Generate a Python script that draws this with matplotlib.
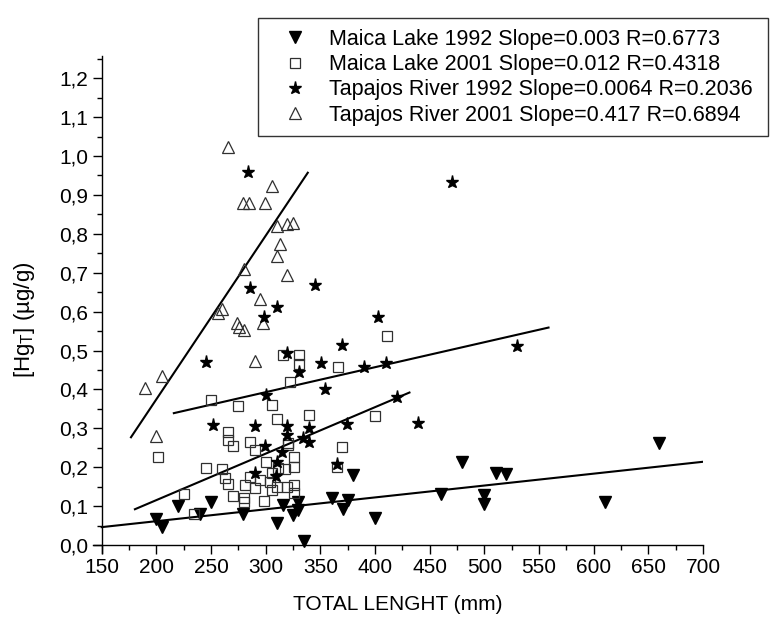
import matplotlib
matplotlib.use("Agg")
import matplotlib.pyplot as plt
from matplotlib.ticker import MultipleLocator, FuncFormatter

plt.rcParams['font.family'] = ['Liberation Sans', 'DejaVu Sans']
plt.rcParams['mathtext.default'] = 'regular'

# ---- data ----
maica92_x = [199.4, 205.5, 220.1, 240.0, 250.0, 279.6, 310.1, 315.6, 325.3, 329.9, 329.9,
             335.1, 360.4, 370.5, 375.1, 379.6, 400.0, 460.2, 480.0, 500.1, 500.1,
             510.8, 519.9, 610.5, 660.2]
maica92_y = [0.066, 0.047, 0.100, 0.081, 0.111, 0.079, 0.056, 0.103, 0.077, 0.111, 0.090,
             0.011, 0.120, 0.092, 0.116, 0.180, 0.070, 0.130, 0.214, 0.129, 0.105,
             0.186, 0.182, 0.111, 0.261]

maica01_x = [201.2, 225.3, 234.5, 245.4, 250.0, 259.8, 262.8, 265.9, 265.9, 265.9, 270.4,
             270.4, 275.0, 280.2, 280.2, 281.1, 285.7, 285.7, 290.3, 290.3, 294.8, 298.8,
             300.0, 304.0, 305.5, 305.5, 305.5, 310.1, 310.7, 311.6, 315.6, 317.7, 319.9,
             320.2, 320.7, 322.3, 325.9, 325.9, 325.9, 325.9, 330.5, 330.5, 340.0, 365.6,
             365.9, 370.2, 400.0, 410.7]
maica01_y = [0.227, 0.131, 0.081, 0.197, 0.373, 0.195, 0.173, 0.291, 0.270, 0.157, 0.254,
             0.126, 0.357, 0.120, 0.111, 0.154, 0.266, 0.176, 0.243, 0.147, 0.167, 0.114,
             0.214, 0.163, 0.360, 0.186, 0.141, 0.323, 0.150, 0.197, 0.488, 0.195, 0.150,
             0.257, 0.261, 0.418, 0.225, 0.200, 0.154, 0.133, 0.488, 0.465, 0.334, 0.201,
             0.458, 0.253, 0.332, 0.537]

tapajos92_x = [245.1, 252.1, 283.6, 285.7, 290.3, 290.3, 298.5, 299.4, 300.0, 309.5, 310.1,
               310.1, 314.7, 319.2, 319.2, 319.9, 330.2, 334.5, 340.0, 340.0, 345.2, 350.3,
               354.3, 365.0, 369.9, 374.7, 390.0, 403.1, 410.1, 419.9, 439.7, 470.2, 530.3]
tapajos92_y = [0.470, 0.308, 0.958, 0.660, 0.306, 0.186, 0.585, 0.254, 0.386, 0.177, 0.611,
               0.214, 0.240, 0.494, 0.283, 0.306, 0.446, 0.274, 0.300, 0.266, 0.668, 0.467,
               0.400, 0.208, 0.513, 0.311, 0.457, 0.585, 0.467, 0.381, 0.314, 0.934, 0.512]

tapajos01_x = [189.6, 199.4, 205.0, 256.1, 259.8, 265.3, 273.5, 275.3, 279.0, 280.2, 280.2,
               285.0, 290.3, 294.8, 297.3, 299.7, 305.5, 310.1, 310.1, 313.1, 319.9, 319.9,
               325.3]
tapajos01_y = [0.403, 0.280, 0.435, 0.597, 0.606, 1.024, 0.572, 0.561, 0.878, 0.552, 0.709,
               0.878, 0.474, 0.632, 0.570, 0.878, 0.923, 0.744, 0.820, 0.775, 0.824, 0.694,
               0.829]

# regression line end points
maica92_fit_x = [150, 700]
maica92_fit_y = [0.046, 0.214]
maica01_fit_x = [216, 558.7]
maica01_fit_y = [0.339, 0.559]
tapajos92_fit_x = [180.4, 431.5]
tapajos92_fit_y = [0.092, 0.392]
tapajos01_fit_x = [176.8, 338.5]
tapajos01_fit_y = [0.277, 0.957]

labels = ["Maica Lake 1992 Slope=0.003 R=0.6773",
          "Maica Lake 2001 Slope=0.012 R=0.4318",
          "Tapajos River 1992 Slope=0.0064 R=0.2036",
          "Tapajos River 2001 Slope=0.417 R=0.6894"]

x_ticks = list(range(150, 701, 50))
y_ticks = [i / 10 for i in range(0, 13)]

# ---- figure ----
fig = plt.figure(figsize=(7.7, 6.18), dpi=100)
ax = fig.add_axes([0.1214, 0.1055, 0.7916, 0.8032])

for fx, fy in [(maica92_fit_x, maica92_fit_y), (maica01_fit_x, maica01_fit_y),
               (tapajos92_fit_x, tapajos92_fit_y), (tapajos01_fit_x, tapajos01_fit_y)]:
    ax.plot(fx, fy, color='black', lw=1.5, zorder=2)

h1, = ax.plot(maica92_x, maica92_y, linestyle='none', marker='v', ms=8.5,
              color='black', zorder=3)
h2, = ax.plot(maica01_x, maica01_y, linestyle='none', marker='s', ms=6.5,
              mfc='none', mec='#303030', mew=0.9, zorder=3)
h3, = ax.plot(tapajos92_x, tapajos92_y, linestyle='none', marker='*', ms=9.5,
              color='black', zorder=4)
h4, = ax.plot(tapajos01_x, tapajos01_y, linestyle='none', marker='^', ms=9,
              mfc='none', mec='#303030', mew=0.9, zorder=3)

ax.set_xlim(142.5, 700)
ax.set_ylim(-0.02, 1.256)
ax.spines['left'].set_position(('data', 150))
ax.spines['bottom'].set_position(('data', 0))
ax.spines['top'].set_visible(False)
ax.spines['right'].set_visible(False)
for s in ['left', 'bottom']:
    ax.spines[s].set_linewidth(1.0)

ax.set_xticks(x_ticks)
ax.set_yticks(y_ticks)
ax.xaxis.set_minor_locator(MultipleLocator(25))
ax.yaxis.set_minor_locator(MultipleLocator(0.05))
ax.xaxis.set_major_formatter(FuncFormatter(lambda v, p: f"{v:.0f}"))
ax.yaxis.set_major_formatter(FuncFormatter(lambda v, p: f"{v:.1f}".replace('.', ',')))
ax.tick_params(which='major', direction='out', length=6.5, width=1.0, labelsize=15, pad=3)
ax.tick_params(which='minor', direction='out', length=3.8, width=1.0)

ax.set_xlabel("TOTAL LENGHT (mm)", fontsize=15)
ax.set_ylabel("[Hg$_{T}$] (\u00b5g/g)", fontsize=16)
ax.xaxis.set_label_coords(0.5, -0.085)
ax.yaxis.set_label_coords(-0.093, 0.47)

leg = fig.legend([h1, h2, h3, h4], labels, loc='upper left',
                 bbox_to_anchor=(258 / 770, 0.0, (768 - 258) / 770, 1 - 18 / 618),
                 mode='expand', fontsize=15.5, frameon=True, fancybox=False,
                 edgecolor='black', handlelength=2.45, handletextpad=0.36,
                 labelspacing=0.2, borderpad=0.5, borderaxespad=0.0)
leg.get_frame().set_linewidth(1.0)

fig.savefig("out.png", dpi=100)
